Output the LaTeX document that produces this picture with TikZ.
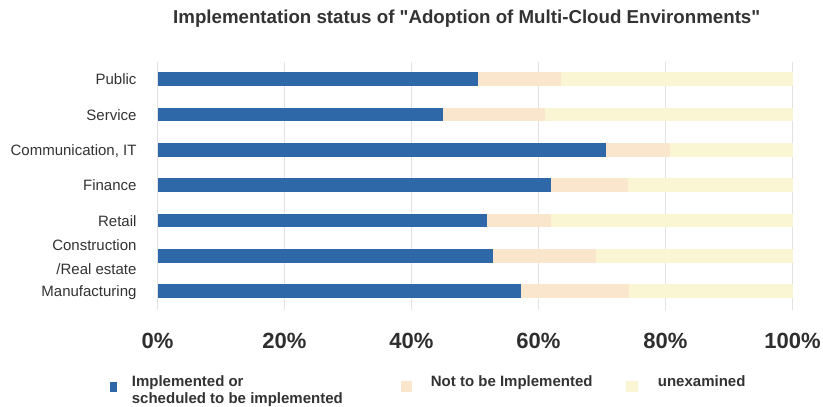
\documentclass[tikz,border=0pt]{standalone}
\usepackage{fontspec}
\setmainfont{Liberation Sans}[Ligatures=TeXOff]
\definecolor{cblue}{HTML}{2E68A8}
\definecolor{corange}{HTML}{FAE5CD}
\definecolor{cyellow}{HTML}{FAF5D3}
\definecolor{cgrid}{HTML}{E2E2E2}
\definecolor{ctext}{HTML}{333333}
\begin{document}
\begin{tikzpicture}[x=1pt,y=-1pt,
  catlabel/.style={anchor=base east, inner sep=0pt, text=ctext, font=\fontsize{15}{18}\selectfont},
  ticklabel/.style={anchor=base, inner sep=0pt, text=ctext!90!black, font=\fontsize{22}{26}\selectfont\bfseries},
  legtext/.style={anchor=base west, inner sep=0pt, text=ctext, font=\fontsize{15}{18}\selectfont\bfseries},
  gridline/.style={draw=cgrid, line width=1pt},
  barseg/.style={draw=none}]
\useasboundingbox (0,0) rectangle (823,407);
\fill[white] (0,0) rectangle (823,407);
% title
\node[anchor=base, inner sep=0pt, text=ctext, font=\fontsize{18.7}{22}\selectfont\bfseries] (title) at (466.7,23.3) {Implementation status of "Adoption of Multi-Cloud Environments"};
% grid and ticks
\foreach \k in {0,...,5}{
  \pgfmathsetmacro{\gx}{157.5+127*\k}
  \coordinate (gt\k) at (\gx,61.7);
  \coordinate (gb\k) at (\gx,310);
  \draw[gridline] (gt\k) -- (gb\k);
  \pgfmathtruncatemacro{\pc}{20*\k}
  \node[ticklabel] (tick\k) at (\gx,348) {\pc\%};
}
% bars
\foreach \a/\b [count=\i from 0] in {50.4/63.6, 44.9/61.0, 70.7/80.7, 62.0/74.1, 51.9/62.0, 52.9/69.0, 57.3/74.3}{
  \pgfmathsetmacro{\yc}{79.2+35.35*\i}
  \pgfmathsetmacro{\xa}{157.5+6.35*\a}
  \pgfmathsetmacro{\xb}{157.5+6.35*\b}
  \fill[cyellow] (\xb,\yc-6.85) rectangle (792.5,\yc+6.85);
  \fill[corange] (\xa,\yc-6.85) rectangle (\xb,\yc+6.85);
  \fill[cblue] (157.5,\yc-6.85) rectangle (\xa,\yc+6.85);
}
% category labels
\node[catlabel] (lpub) at (136.7,84.6) {Public};
\node[catlabel] (lser) at (136.7,120.4) {Service};
\node[catlabel] (lcom) at (136.7,155.6) {Communication, IT};
\node[catlabel] (lfin) at (136.7,190.9) {Finance};
\node[catlabel] (lret) at (136.7,226.4) {Retail};
\node[catlabel] (lcon1) at (136.7,250) {Construction};
\node[catlabel] (lcon2) at (136.7,274) {/Real estate};
\node[catlabel] (lman) at (136.7,296.7) {Manufacturing};
% legend
\fill[cblue] (110,382.3) rectangle (117.3,391.7);
\fill[corange] (400.7,380.7) rectangle (412,391.7);
\fill[cyellow] (626,380.7) rectangle (638,391.7);
\node[legtext] (leg1a) at (131.7,386) {Implemented or};
\node[legtext] (leg1b) at (131.7,403) {scheduled to be implemented};
\node[legtext] (leg2) at (430.7,386) {Not to be Implemented};
\node[legtext] (leg3) at (657.7,386) {unexamined};
\end{tikzpicture}
\end{document}
